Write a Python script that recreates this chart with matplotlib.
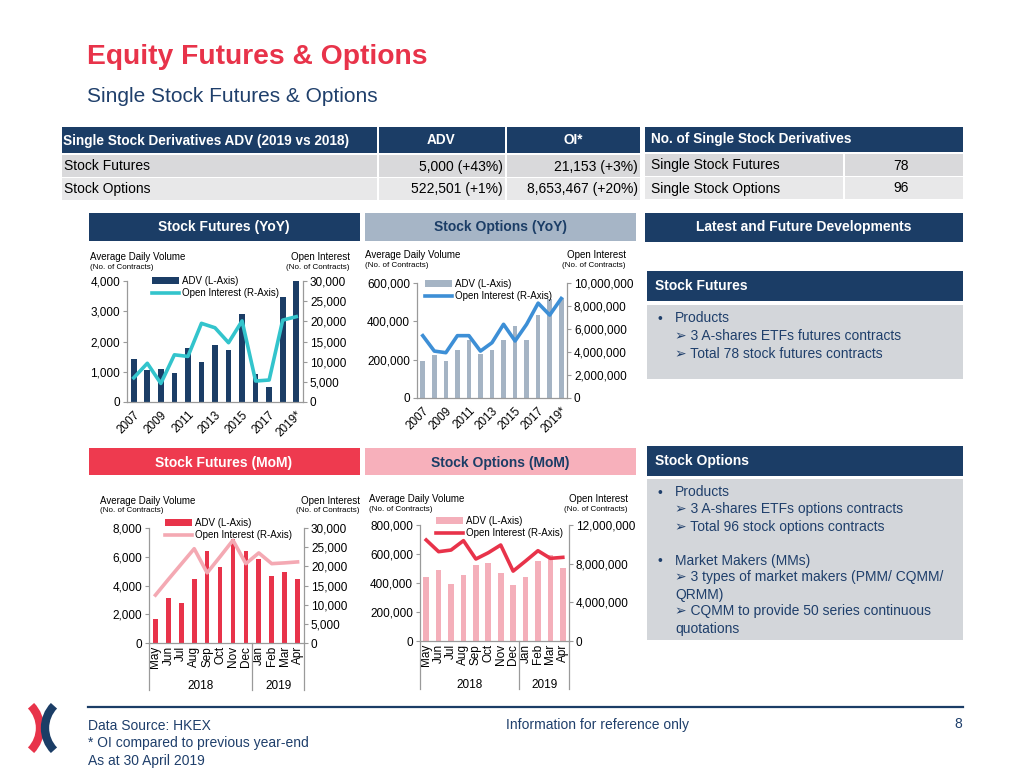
import matplotlib
matplotlib.use('Agg')
import matplotlib.pyplot as plt
import numpy as np
from matplotlib.patches import Rectangle, Arc
from matplotlib.ticker import FuncFormatter
from matplotlib.transforms import blended_transform_factory

plt.rcParams['font.family'] = ['Liberation Sans', 'DejaVu Sans']

W, H = 1024, 768
NAVY = '#1B3D66'
BLUE_TXT = '#1F3F6B'
RED = '#E8334A'
AXIS = '#9A9A9A'

# ---- data ----
years = ['2007', '2008', '2009', '2010', '2011', '2012', '2013',
         '2014', '2015', '2016', '2017', '2018', '2019*']
fut_adv_yoy = [1410, 1060, 1100, 960, 1800, 1310, 1870, 1730, 2920, 930, 500, 3480, 5000]
fut_oi_yoy = [6000, 9600, 4600, 11700, 11300, 19500, 18400, 14700, 20100, 5200, 5450, 20300, 21153]
opt_adv_yoy = [192000, 225000, 192000, 248000, 302000, 231000, 253000,
               302000, 376000, 302000, 432000, 517000, 522501]
opt_oi_yoy = [5420000, 4080000, 3940000, 5420000, 5420000, 4080000, 4810000,
              6410000, 4960000, 6410000, 8250000, 7210000, 8653467]

months = ['May', 'Jun', 'Jul', 'Aug', 'Sep', 'Oct', 'Nov', 'Dec', 'Jan', 'Feb', 'Mar', 'Apr']
fut_adv_mom = [1650, 3100, 2800, 4420, 6430, 5320, 7260, 6430, 5830, 4650, 4950, 4420]
fut_oi_mom = [12500, 16600, 20600, 24600, 18300, 22500, 26800, 20700, 23500, 20700, 20900, 21153]
opt_adv_mom = [442000, 488000, 396000, 454000, 523000, 539000, 470000, 385000,
               442000, 553000, 592000, 505000]
opt_oi_mom = [10450000, 9240000, 9410000, 10380000, 8480000, 9130000, 9930000, 7230000,
              8270000, 9340000, 8550000, 8653467]

table_rows = ['Stock Futures', 'Stock Options']
table_adv = ['5,000 (+43%)', '522,501 (+1%)']
table_oi = ['21,153 (+3%)', '8,653,467 (+20%)']
count_rows = ['Single Stock Futures', 'Single Stock Options']
count_vals = ['78', '96']

fig = plt.figure(figsize=(10.24, 7.68), dpi=100)
bg = fig.add_axes([0, 0, 1, 1])
bg.set_xlim(0, W)
bg.set_ylim(H, 0)
bg.axis('off')


def box(x0, y0, x1, y1, color):
    bg.add_patch(Rectangle((x0, y0), x1 - x0, y1 - y0, facecolor=color, edgecolor='none'))


def txt(x, y, s, size=10, color='black', weight='normal', ha='left', va='center'):
    # small downward nudge so caps sit where the slide has them
    bg.text(x, y + 1.5, s, fontsize=size, color=color, fontweight=weight, ha=ha, va=va)


# title
txt(87, 56, 'Equity Futures & Options', 20.3, RED, 'bold')
txt(87, 95, 'Single Stock Futures & Options', 15, BLUE_TXT)

# left table
box(62, 127, 377, 153, NAVY)
box(379, 127, 505, 153, NAVY)
box(507, 127, 640, 153, NAVY)
txt(63, 139, 'Single Stock Derivatives ADV (2019 vs 2018)', 9.8, 'white', 'bold')
txt(441, 139, 'ADV', 9.8, 'white', 'bold', ha='center')
txt(573, 139, 'OI*', 9.8, 'white', 'bold', ha='center')
for i, (name, a, o) in enumerate(zip(table_rows, table_adv, table_oi)):
    y0 = 155 + i * 23
    fill = '#D9D9DB' if i == 0 else '#E8E8E9'
    box(62, y0, 377, y0 + 22, fill)
    box(379, y0, 505, y0 + 22, fill)
    box(507, y0, 640, y0 + 22, fill)
    txt(64, y0 + 10, name, 10)
    txt(503, y0 + 10, a, 10, ha='right')
    txt(638, y0 + 10, o, 10, ha='right')

# right table
box(645, 127, 963, 152, NAVY)
txt(651, 138, 'No. of Single Stock Derivatives', 9.8, 'white', 'bold')
for i, (name, v) in enumerate(zip(count_rows, count_vals)):
    y0 = 154 + i * 23
    fill = '#D9D9DB' if i == 0 else '#E8E8E9'
    box(645, y0, 843, y0 + 22, fill)
    box(845, y0, 963, y0 + 22, fill)
    txt(651, y0 + 10, name, 10)
    txt(901, y0 + 10, v, 10, ha='center')

# section headers
box(89, 213, 360, 241, NAVY)
txt(224, 226, 'Stock Futures (YoY)', 10, 'white', 'bold', ha='center')
box(365, 213, 636, 241, '#A6B5C6')
txt(500, 226, 'Stock Options (YoY)', 10, NAVY, 'bold', ha='center')
box(645, 213, 963, 242, NAVY)
txt(804, 226, 'Latest and Future Developments', 10, 'white', 'bold', ha='center')
box(89, 448, 360, 475, '#EE3A4F')
txt(224, 461, 'Stock Futures (MoM)', 10, 'white', 'bold', ha='center')
box(365, 448, 636, 475, '#F7B0BB')
txt(500, 461, 'Stock Options (MoM)', 10, NAVY, 'bold', ha='center')

# right panel
box(647, 271, 963, 301, NAVY)
txt(655, 284, 'Stock Futures', 10, 'white', 'bold')
box(647, 305, 963, 379, '#D3D6DA')
fut_notes = [(317, '•', 'Products'),
             (335, None, '➢ 3 A-shares ETFs futures contracts'),
             (352, None, '➢ Total 78 stock futures contracts')]
box(647, 446, 963, 476, NAVY)
txt(655, 459, 'Stock Options', 10, 'white', 'bold')
box(647, 479, 963, 640, '#D3D6DA')
opt_notes = [(491, '•', 'Products'),
             (508, None, '➢ 3 A-shares ETFs options contracts'),
             (525, None, '➢ Total 96 stock options contracts'),
             (559, '•', 'Market Makers (MMs)'),
             (576, None, '➢ 3 types of market makers (PMM/ CQMM/'),
             (593, None, 'QRMM)'),
             (610, None, '➢ CQMM to provide 50 series continuous'),
             (627, None, 'quotations')]
for y, bullet, s in fut_notes + opt_notes:
    if bullet:
        txt(657, y, bullet, 10, BLUE_TXT)
    txt(675, y, s, 10, BLUE_TXT)

# footer
bg.plot([88, 963], [707, 707], color=NAVY, lw=1.6)
txt(88, 724, 'Data Source: HKEX', 10, BLUE_TXT)
txt(88, 741, '* OI compared to previous year-end', 10, BLUE_TXT)
txt(88, 759, 'As at 30 April 2019', 10, BLUE_TXT)
txt(506, 724, 'Information for reference only', 10, BLUE_TXT)
txt(958, 723, '8', 10, BLUE_TXT, ha='center')
# logo
bg.add_patch(Arc((8, 728), 64, 64, theta1=-44, theta2=44, color=RED, lw=6))
bg.add_patch(Arc((77, 728), 64, 64, theta1=136, theta2=224, color=NAVY, lw=6))

fmt = FuncFormatter(lambda v, p: f'{v:,.0f}')


def draw_chart(px, labels, adv, oi, bar_color, line_color, bar_w, l_ticks, r_ticks, leg, monthly=False):
    x0, y0, x1, y1 = px
    ax = fig.add_axes([x0 / W, 1 - y1 / H, (x1 - x0) / W, (y1 - y0) / H])
    ax.patch.set_alpha(0)
    xs = np.arange(len(labels))
    bars = ax.bar(xs, adv, width=bar_w, color=bar_color, zorder=2)
    ax.set_xlim(-0.5, len(labels) - 0.5)
    ax.set_ylim(0, l_ticks[-1])
    ax.set_yticks(l_ticks)
    ax.yaxis.set_major_formatter(fmt)
    ax2 = ax.twinx()
    line, = ax2.plot(xs, oi, color=line_color, lw=2.6)
    ax2.set_ylim(0, r_ticks[-1])
    ax2.set_yticks(r_ticks)
    ax2.yaxis.set_major_formatter(fmt)
    for s in ['top', 'right']:
        ax.spines[s].set_visible(False)
    for s in ['top', 'left', 'bottom']:
        ax2.spines[s].set_visible(False)
    for sp in [ax.spines['left'], ax.spines['bottom'], ax2.spines['right']]:
        sp.set_color(AXIS)
        sp.set_linewidth(0.9)
    ax.tick_params(axis='y', length=3, width=0.8, color=AXIS, labelsize=8.5, pad=2)
    ax2.tick_params(axis='y', length=3, width=0.8, color=AXIS, labelsize=8.5, pad=2)
    ax.set_xticks(xs)
    if monthly:
        ax.tick_params(axis='x', length=0, labelsize=8.5, pad=2)
        ax.set_xticklabels(labels, rotation=90, ha='center', va='top')
        trans = blended_transform_factory(ax.transData, ax.transAxes)
        for xv in [-0.5, 7.5, len(labels) - 0.5]:
            ax.plot([xv, xv], [0, -0.41], transform=trans, clip_on=False, color=AXIS, lw=0.9)
        ax.text(3.5, -0.375, '2018', transform=trans, ha='center', va='center', fontsize=8.5)
        ax.text(9.5, -0.375, '2019', transform=trans, ha='center', va='center', fontsize=8.5)
    else:
        ax.tick_params(axis='x', length=0, labelsize=8.5, pad=5)
        ax.set_xticklabels([l if i % 2 == 0 else '' for i, l in enumerate(labels)],
                           rotation=45, ha='right', rotation_mode='anchor')
    ax2.legend([bars, line], ['ADV (L-Axis)', 'Open Interest (R-Axis)'], loc='upper left',
               bbox_to_anchor=(leg[0] / W, 1 - leg[1] / H), bbox_transform=fig.transFigure,
               frameon=False, fontsize=7, handlelength=2.8, handleheight=0.6,
               handletextpad=0.3, labelspacing=0.2, borderpad=0, borderaxespad=0)
    return ax


def axis_titles(xl, xr, y):
    txt(xl, y, 'Average Daily Volume', 7)
    txt(xl, y + 10, '(No. of Contracts)', 5.8)
    txt(xr, y, 'Open Interest', 7, ha='right')
    txt(xr, y + 10, '(No. of Contracts)', 5.8, ha='right')


axis_titles(90, 350, 256)
axis_titles(365, 626, 254)
axis_titles(100, 360, 499)
axis_titles(369, 628, 498)

draw_chart((127, 281, 303, 402), years, fut_adv_yoy, fut_oi_yoy, '#1B3D66', '#33C4CC', 0.42,
           np.arange(0, 4001, 1000), np.arange(0, 30001, 5000), (152, 276))
draw_chart((417, 283, 567, 398), years, opt_adv_yoy, opt_oi_yoy, '#A5B4C4', '#3D8FD6', 0.4,
           np.arange(0, 600001, 200000), np.arange(0, 10000001, 2000000), (425, 279))
draw_chart((149, 528, 304, 643), months, fut_adv_mom, fut_oi_mom, RED, '#F4A9B3', 0.36,
           np.arange(0, 8001, 2000), np.arange(0, 30001, 5000), (165, 518), monthly=True)
draw_chart((420, 525, 569, 641), months, opt_adv_mom, opt_oi_mom, '#F4AFBA', RED, 0.45,
           np.arange(0, 800001, 200000), np.arange(0, 12000001, 4000000), (436, 516), monthly=True)

fig.savefig('out.png', dpi=100)
